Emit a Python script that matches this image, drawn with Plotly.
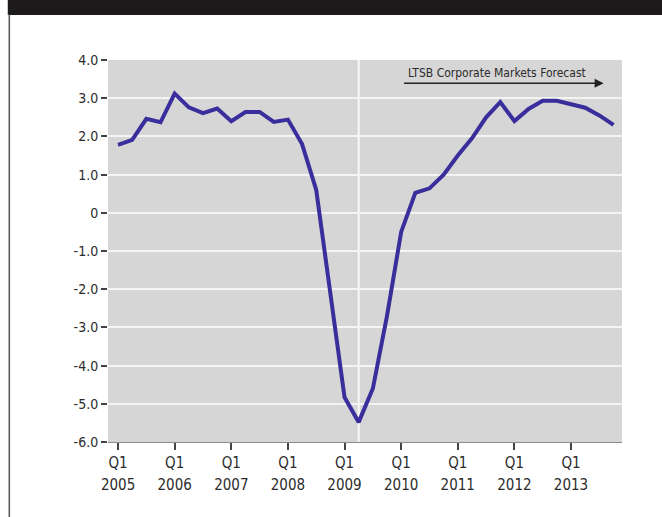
import plotly.graph_objects as go

# ---- data ----
quarters = list(range(36))  # Q1 2005 .. Q4 2013 (quarter index)
growth = [1.78, 1.91, 2.46, 2.37, 3.12, 2.76, 2.61, 2.73,
          2.40, 2.64, 2.64, 2.38, 2.44, 1.80, 0.60, -2.20,
          -4.83, -5.48, -4.60, -2.70, -0.50, 0.52, 0.64, 1.00,
          1.50, 1.95, 2.50, 2.90, 2.40, 2.72, 2.93, 2.93,
          2.85, 2.75, 2.55, 2.30]
years = [2005, 2006, 2007, 2008, 2009, 2010, 2011, 2012, 2013]
x_tick_vals = [4 * k for k in range(len(years))]
quarter_text = ["Q1"] * len(years)
year_text = [str(y) for y in years]
y_tick_vals = [4, 3, 2, 1, 0, -1, -2, -3, -4, -5, -6]
y_tick_text = ["4.0", "3.0", "2.0", "1.0", "0", "-1.0", "-2.0", "-3.0", "-4.0", "-5.0", "-6.0"]
divider_quarter = 17          # Q2 2009
forecast_from, forecast_to = 20.1, 34.3
forecast_label = "LTSB Corporate Markets Forecast"

FONT = "DejaVu Sans Condensed, Liberation Sans Narrow, sans-serif"
TXT = "#2b2b2b"
XRANGE = [-0.71, 35.6]

fig = go.Figure()
fig.add_trace(go.Scatter(
    x=quarters, y=growth, mode="lines",
    line=dict(color="#3a2e9c", width=4),
    hoverinfo="skip", showlegend=False,
))
# empty helper trace so the year-label axis is drawn
fig.add_trace(go.Scatter(
    x=x_tick_vals, y=[None] * len(x_tick_vals), xaxis="x2", yaxis="y",
    mode="lines", hoverinfo="skip", showlegend=False,
))

fig.update_layout(
    width=662, height=517,
    margin=dict(l=108, r=40, t=60, b=75),
    paper_bgcolor="white",
    plot_bgcolor="#d6d6d6",
    font=dict(family=FONT, color=TXT, size=13),
    xaxis=dict(
        range=XRANGE, tickmode="array",
        tickvals=x_tick_vals, ticktext=quarter_text,
        showgrid=False, zeroline=False,
        ticks="outside", ticklen=7, tickwidth=2, tickcolor="#444",
        showline=True, linecolor="#8a8a8a", linewidth=1,
        tickfont=dict(size=15, family=FONT, color=TXT),
    ),
    xaxis2=dict(
        range=XRANGE, overlaying="x", side="bottom", anchor="y",
        tickmode="array", tickvals=x_tick_vals, ticktext=year_text,
        showgrid=False, zeroline=False, showline=False,
        ticks="", ticklabelstandoff=32,
        tickfont=dict(size=15, family=FONT, color=TXT),
    ),
    yaxis=dict(
        range=[-6, 4], tickmode="array",
        tickvals=y_tick_vals, ticktext=y_tick_text,
        showgrid=True, gridcolor="#f4f4f4", gridwidth=2,
        zeroline=False,
        ticks="outside", ticklen=6, tickwidth=2, tickcolor="#444",
        showline=False,
        tickfont=dict(size=14, family=FONT, color=TXT),
    ),
    shapes=[
        # top black band
        dict(type="rect", xref="paper", yref="paper",
             x0=-0.195, x1=1.1, y0=1.118, y1=1.2,
             fillcolor="#1c1a1a", line=dict(width=0), layer="above"),
        # left frame line
        dict(type="line", xref="paper", yref="paper",
             x0=-0.192, x1=-0.192, y0=-0.25, y1=1.12,
             line=dict(color="#555", width=1.5)),
        # vertical divider
        dict(type="line", xref="x", yref="paper",
             x0=divider_quarter, x1=divider_quarter, y0=0, y1=1,
             line=dict(color="#f8f8f8", width=2), layer="below"),
    ],
    annotations=[
        dict(x=forecast_to, y=3.39, ax=forecast_from, ay=3.39,
             xref="x", yref="y", axref="x", ayref="y",
             showarrow=True, arrowhead=2, arrowsize=1.2, arrowwidth=1.5,
             arrowcolor="#222", text=""),
        dict(x=(forecast_from + forecast_to) / 2 - 0.4, y=3.65,
             xref="x", yref="y", text=forecast_label, showarrow=False,
             font=dict(size=12, family=FONT, color=TXT)),
    ],
)

fig.write_html("out.html")
